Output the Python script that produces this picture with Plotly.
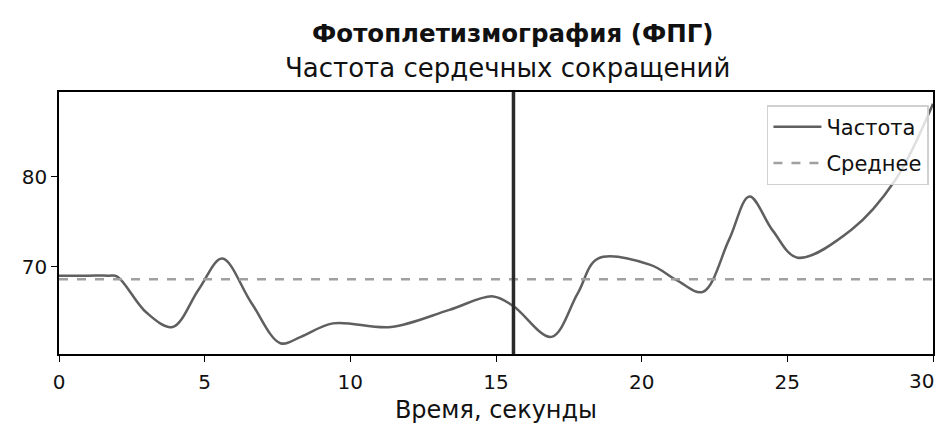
import plotly.graph_objects as go

# Data
time_s = [0, 1.0, 1.7, 2.0, 3.0, 3.9, 4.8, 5.6, 6.6, 7.6, 8.3, 9.4, 11.4, 13.4, 14.9, 15.6,
          16.9, 17.8, 18.5, 20.3, 21.2, 22.1, 23.0, 23.7, 24.5, 25.35, 27.2, 28.7, 30]
heart_rate = [69, 69, 69, 68.9, 64.9, 63.3, 67.5, 70.9, 66, 61.5, 62.2, 63.7, 63.3, 65.2, 66.7, 65.6,
              62.2, 67, 70.9, 70.2, 68.5, 67.2, 73, 77.8, 74, 71.0, 74.1, 79.6, 88.1]
mean_hr = 68.6
marker_time = 15.6
x_ticks = [0, 5, 10, 15, 20, 25, 30]
x_tick_labels = ["0", "5", "10", "15", "20", "25", "30"]
y_ticks = [70, 80]

title_text = "<b>Фотоплетизмография (ФПГ)</b>"
subtitle_text = "Частота сердечных сокращений"
x_label = "Время, секунды"
series_names = ["Частота", "Среднее"]

FONT = "DejaVu Sans"

fig = go.Figure()
fig.add_trace(go.Scatter(
    x=time_s, y=heart_rate, mode="lines", name=series_names[0], legendgroup="a",
    line=dict(color="#5f5f5f", width=2.5, shape="spline", smoothing=1.0),
))
fig.add_trace(go.Scatter(
    x=[x_ticks[0], x_ticks[-1]], y=[mean_hr, mean_hr], mode="lines", name=series_names[1],
    legendgroup="b",
    line=dict(color="#a0a0a0", width=2.5, dash="dash"),
))
fig.add_vline(x=marker_time, line=dict(color="#2a2a2a", width=3.5))

fig.add_annotation(text=title_text, xref="paper", yref="paper", x=0.519, y=1.0,
                   yshift=59, showarrow=False, xanchor="center", yanchor="middle",
                   font=dict(family=FONT, size=24.5, color="#111"))
fig.add_annotation(text=subtitle_text, xref="paper", yref="paper", x=0.5126, y=1.0,
                   yshift=24, showarrow=False, xanchor="center", yanchor="middle",
                   font=dict(family=FONT, size=26, color="#111"))
# last tick label kept inside the page edge
fig.add_annotation(text=x_tick_labels[-1], xref="x", yref="paper", x=x_ticks[-1], y=0,
                   yshift=-27, xshift=3, showarrow=False, xanchor="right", yanchor="middle",
                   font=dict(family=FONT, size=20, color="#111"))

fig.update_layout(
    width=935, height=419,
    margin=dict(l=51, r=10, t=84, b=73),
    paper_bgcolor="white", plot_bgcolor="white",
    font=dict(family=FONT, color="#111"),
    showlegend=True,
    legend=dict(x=0.81, y=0.95, xanchor="left", yanchor="top",
                bgcolor="rgba(255,255,255,0.8)", bordercolor="#d0d0d0", borderwidth=1.5,
                font=dict(family=FONT, size=21, color="#111"),
                itemwidth=48, tracegroupgap=6, traceorder="grouped"),
    xaxis=dict(range=[0, 30], tickvals=x_ticks, ticktext=x_tick_labels[:-1] + [""],
               showgrid=False, zeroline=False,
               showline=True, linecolor="black", linewidth=1.5, mirror=True,
               ticks="outside", ticklen=6, tickcolor="black", automargin=False,
               ticklabelstandoff=3,
               tickfont=dict(family=FONT, size=20),
               title=dict(text=x_label, font=dict(family=FONT, size=24), standoff=8)),
    yaxis=dict(range=[60.3, 89.4], tickvals=y_ticks, showgrid=False, zeroline=False,
               showline=True, linecolor="black", linewidth=1.5, mirror=True,
               ticks="outside", ticklen=6, tickcolor="black", automargin=False,
               tickfont=dict(family=FONT, size=20)),
)

fig.write_html("out.html")
